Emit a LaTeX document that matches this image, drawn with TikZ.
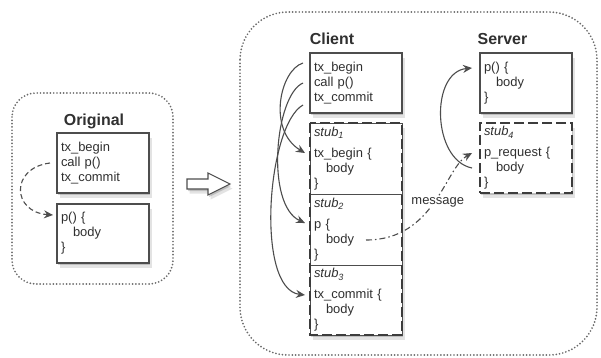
\documentclass[tikz,border=0pt]{standalone}
\usepackage{fontspec}
\setmainfont{Liberation Sans}
\usetikzlibrary{arrows.meta,shadows,calc}

\definecolor{ink}{HTML}{303030}
\definecolor{edge}{HTML}{4D4D4D}
\definecolor{frame}{HTML}{3C3C3C}
\definecolor{dots}{HTML}{6A6A6A}

\newcommand\stublabel[1]{{\itshape stub\textsubscript{#1}}}

\begin{document}
\begin{tikzpicture}[x=1bp,y=-1bp,
  every node/.style={font=\fontsize{13}{15}\selectfont, text=ink},
  title/.style={font=\bfseries\fontsize{16}{19}\selectfont, anchor=base},
  soft shadow/.style={
    general shadow={fill=black, opacity=.16, shadow xshift=1bp, shadow yshift=-2bp},
    general shadow={fill=black, opacity=.11, shadow xshift=2.5bp, shadow yshift=-4.5bp}},
  codebox/.style={draw=edge, line width=1.2bp, fill=white, anchor=north west,
    minimum width=92bp, text width=84bp, inner xsep=4bp, inner ysep=0pt,
    align=left, outer sep=0pt, soft shadow},
  cell/.style={draw=edge, line width=.8bp, fill=white, anchor=north west,
    minimum width=92bp, text width=84bp, inner xsep=4bp, inner ysep=0pt,
    align=left, outer sep=0pt},
  stackbg/.style={fill=white, anchor=north west, minimum width=92bp,
    minimum height=212bp, inner sep=0pt, outer sep=0pt, soft shadow},
  stubframe/.style={draw=frame, line width=2.6bp, dash pattern=on 10bp off 4bp},
  container/.style={draw=dots, line width=1.9bp, dash pattern=on 0bp off 3.3bp,
    line cap=round},
  conn/.style={draw=edge, line width=1.1bp,
    -{Stealth[length=9bp, width=8bp, inset=3bp]}},
]
% canvas
\fill[white] (0,0) rectangle (601,357);
\useasboundingbox (0,0) rectangle (601,357);

% dotted groupings
\draw[container, rounded corners=24bp] (12,93) rectangle (173,284);
\draw[container, rounded corners=48bp] (240,12) rectangle (597,355);

% titles
\node[title] (tOrig) at (94,125) {Original};
\node[title] (tClient) at (332,44.5) {Client};
\node[title] (tServer) at (502.5,44.5) {Server};

% original program
\node[codebox, minimum height=60bp] (ob1) at (57,133) {tx\_begin\\call p()\\tx\_commit};
\node[codebox, minimum height=59bp] (ob2) at (57,204) {p() \{\\\hspace*{12bp}body\\\}};

% transformation arrow
\draw[draw=edge, line width=1.1bp, fill=white, soft shadow]
  (187,179) -- (208,179) -- (208,173) -- (230,184) -- (208,195) -- (208,189) -- (187,189) -- cycle;

% client side
\node[codebox, minimum height=60bp] (cb) at (310,53) {tx\_begin\\call p()\\tx\_commit};
\node[stackbg] (stack) at (310,123) {};
\node[cell, minimum height=71bp] (s1) at (310,123)
  {\stublabel{1}\\[6bp]tx\_begin \{\\\hspace*{12bp}body\\\}};
\node[cell, minimum height=71bp] (s2) at (310,194)
  {\stublabel{2}\\[6bp]p \{\\\hspace*{12bp}body\\\}};
\node[cell, minimum height=70bp] (s3) at (310,265)
  {\stublabel{3}\\[6bp]tx\_commit \{\\\hspace*{12bp}body\\\}};
\draw[stubframe] (stack.north west) rectangle (stack.south east);

% server side
\node[codebox, minimum height=60bp] (sb) at (480,53) {p() \{\\\hspace*{12bp}body\\\}};
\node[codebox, stubframe, minimum height=70bp] (s4) at (480,123)
  {\stublabel{4}\\[6bp]p\_request \{\\\hspace*{12bp}body\\\}};

% original call
\draw[conn, dash pattern=on 5bp off 3bp]
  ($(ob1.north west)+(-7,30)$) .. controls +(-40,5) and +(-41,-3) .. ($(ob2.north west)+(-4,11)$);

% client calls into stubs
\draw[conn] ($(cb.north west)+(-7,10)$) .. controls +(-23,7) and +(-38,-23) .. ($(s1.north west)+(-5,30)$);
\draw[conn] ($(cb.north west)+(-7,30)$) .. controls +(-28,12) and +(-40,-18) .. ($(s2.north west)+(-5,29)$);
\draw[conn] ($(cb.north west)+(-7,52)$) .. controls +(-36,20) and +(-50,-6) .. ($(s3.north west)+(-5,30)$);

% request message
\draw[conn, dash pattern=on 6bp off 3bp on 1.5bp off 3bp]
  ($(s2.north west)+(56,46)$) .. controls +(69,0) and +(-27,15) .. ($(s4.north west)+(-8,30)$)
  node[pos=.5, xshift=3bp, fill=white, inner sep=1.5bp, solid] (msg) {message};

% server dispatch
\draw[conn] ($(s4.north west)+(-8,45)$) .. controls +(-40,-8) and +(-42,4) .. ($(sb.north west)+(-8,15)$);
\end{tikzpicture}
\end{document}
